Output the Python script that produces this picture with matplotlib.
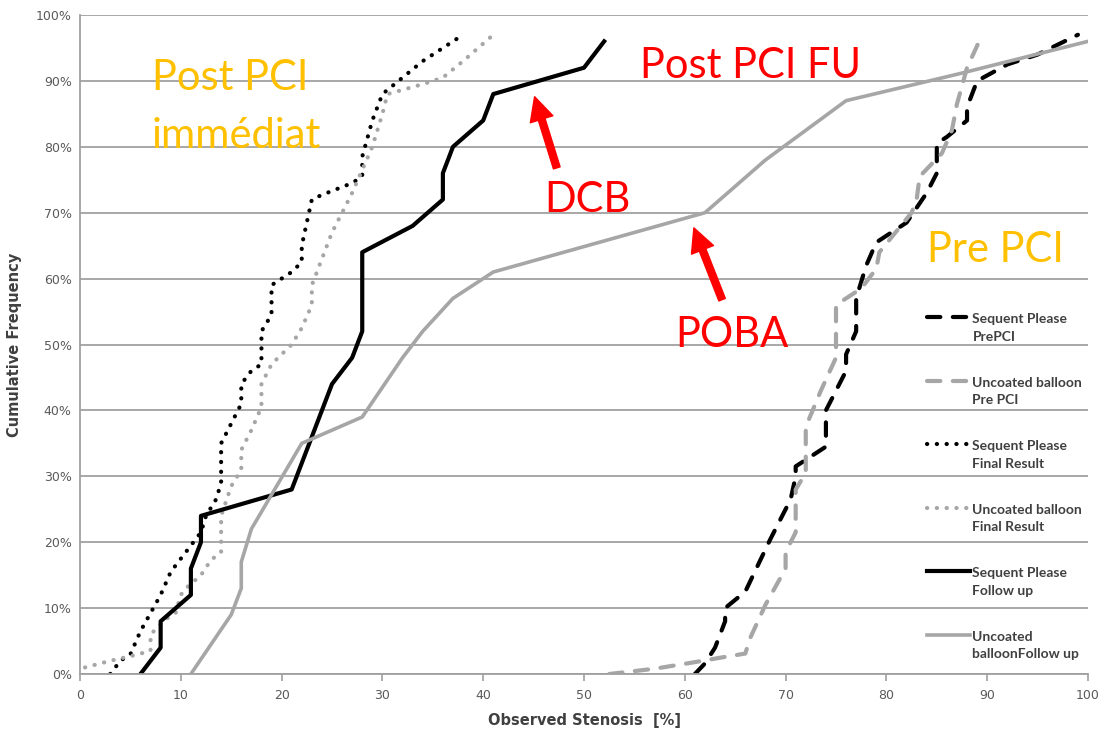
import numpy as np
import matplotlib
matplotlib.use("Agg")
import matplotlib.pyplot as plt
from matplotlib.ticker import PercentFormatter, MultipleLocator
from matplotlib.legend_handler import HandlerLine2D

# cumulative frequency curves, x = observed stenosis [%], y = cumulative frequency [%]
sp_pre_x = [61, 62, 63, 64, 64, 66, 68.5, 70.5, 71, 71, 74, 74, 75, 76, 76, 77, 77, 78, 79, 82, 84, 85, 85, 86, 88, 88, 89, 92, 95, 99]
sp_pre_y = [0, 1.6, 4, 8, 10, 12.5, 20.5, 26.5, 30, 31.5, 34.5, 40, 43, 46, 48.5, 52, 57, 62, 65.5, 68.5, 73, 76, 80.5, 81.5, 84, 86, 90, 92.5, 94, 97]

ub_pre_x = [52.5, 57, 61, 64, 66, 66.5, 68, 70, 70, 71, 71, 72, 72, 73.5, 75, 75, 77.5, 79, 79.3, 82.5, 83, 83.3, 85.5, 86.5, 87, 88, 89.5]
ub_pre_y = [0, 0.8, 1.8, 2.6, 3.1, 5.5, 10.5, 16, 18.5, 21.5, 28, 30.5, 37.5, 43, 48, 56, 58.5, 61.5, 64, 70, 72, 75.5, 79, 82.5, 86.5, 92, 97]

sp_final_x = [3, 4, 5, 6, 8, 9, 10, 11, 12, 12.5, 13.5, 14, 14, 15, 16, 16, 17, 18, 18, 19, 19, 21, 22, 22, 23, 24, 27, 28, 28, 29, 30, 32, 34, 36, 38]
sp_final_y = [0, 2, 3, 6.5, 12, 15.5, 17.5, 19.5, 21.5, 24, 26.5, 29, 35, 38, 41, 44, 46, 47, 52, 54.5, 59, 61, 62.5, 65, 72, 72.7, 74.5, 75.5, 78.5, 84, 88, 90.5, 93, 95, 97]

ub_final_x = [0.5, 3, 5, 7, 7, 8.5, 9.5, 10, 10.5, 12, 13, 14, 14, 15, 16, 16, 17, 18, 18, 19, 21, 22, 23, 23, 25, 27, 29, 30, 30.5, 34, 36, 38, 41]
ub_final_y = [1, 2, 2.7, 3.5, 6, 8.3, 9.3, 12, 13, 15, 17.3, 18.5, 24, 28.5, 31, 34, 37, 40.5, 44, 47, 50, 52.5, 56, 59, 67, 73, 80, 85, 88, 89.5, 90.5, 93, 97]

sp_fu_x = [6, 8, 8, 11, 11, 12, 12, 21, 24, 25, 27, 28, 28, 33, 36, 36, 37, 40, 41, 50, 52]
sp_fu_y = [0, 4, 8, 12, 16, 20, 24, 28, 40, 44, 48, 52, 64, 68, 72, 76, 80, 84, 88, 92, 96]

ub_fu_x = [11, 15, 16, 16, 17, 22, 28, 32, 34, 37, 41, 62, 68, 76, 87, 100]
ub_fu_y = [0, 9, 13, 17, 22, 35, 39, 48, 52, 57, 61, 70, 78, 87, 91, 96]

labels = ["Sequent Please\nPrePCI", "Uncoated balloon\nPre PCI",
          "Sequent Please\nFinal Result", "Uncoated balloon\nFinal Result",
          "Sequent Please\nFollow up", "Uncoated\nballoonFollow up"]

BLACK = "#000000"
GREY = "#a6a6a6"
dash = (0, (3.2, 3.0))
dot = (0, (0.05, 2.3))

LEG_FS = 10
LEG_LS = 1.55


class FirstLineHandler(HandlerLine2D):
    # put the legend sample level with the first line of a two-line label
    def create_artists(self, legend, orig_handle, xdescent, ydescent, width, height, fontsize, trans):
        shift = 0.5 * LEG_LS * fontsize
        return super().create_artists(legend, orig_handle, xdescent, ydescent - 2 * shift,
                                      width, height, fontsize, trans)


fig = plt.figure(figsize=(11.05, 7.3), dpi=100)
ax = fig.add_axes([80/1105, 56/730, 1008/1105, 659/730])

ax.plot(sp_pre_x, sp_pre_y, color=BLACK, lw=3, linestyle=dash, dash_capstyle="round", label=labels[0])
ax.plot(ub_pre_x, ub_pre_y, color=GREY, lw=3, linestyle=dash, dash_capstyle="round", label=labels[1])
ax.plot(sp_final_x, sp_final_y, color=BLACK, lw=3, linestyle=dot, dash_capstyle="round", label=labels[2])
ax.plot(ub_final_x, ub_final_y, color=GREY, lw=3, linestyle=dot, dash_capstyle="round", label=labels[3])
ax.plot(sp_fu_x, sp_fu_y, color=BLACK, lw=3, label=labels[4])
ax.plot(ub_fu_x, ub_fu_y, color=GREY, lw=2.6, label=labels[5])

ax.set_xlim(0, 100)
ax.set_ylim(0, 100)
ax.xaxis.set_major_locator(MultipleLocator(10))
ax.yaxis.set_major_locator(MultipleLocator(10))
ax.yaxis.set_major_formatter(PercentFormatter(decimals=0))
ax.grid(axis="y", color="#a0a0a0", lw=1.3)
ax.set_axisbelow(True)
for s in ["top", "right"]:
    ax.spines[s].set_visible(False)
for s in ["left", "bottom"]:
    ax.spines[s].set_color("#a0a0a0")
    ax.spines[s].set_linewidth(1.3)
ax.tick_params(axis="x", colors="#595959", labelsize=9, length=5, width=1.2, color="#a0a0a0", pad=6)
ax.tick_params(axis="y", colors="#595959", labelsize=9, length=0, pad=6)
ax.set_xlabel("Observed Stenosis  [%]", fontsize=10.5, fontweight="bold", color="#404040", labelpad=8)
ax.set_ylabel("Cumulative Frequency", fontsize=10.5, fontweight="bold", color="#404040", labelpad=10)

leg = ax.legend(loc="upper left", bbox_to_anchor=(0.833, 0.558), frameon=False,
                prop=dict(family="Lato", weight="bold", size=LEG_FS),
                handlelength=3.1, handletextpad=0.2, labelspacing=2.45, borderpad=0,
                handler_map={matplotlib.lines.Line2D: FirstLineHandler()})
for t in leg.get_texts():
    t.set_color("#404040")
    t.set_linespacing(LEG_LS)

ann = dict(family="Lato", fontsize=30)
ax.text(7.1, 79.8, "Post PCI\nimmédiat", color="#ffc000", va="baseline", ha="left", linespacing=1.65, **ann)
ax.text(55.6, 90.4, "Post PCI FU", color="#ff0000", va="baseline", ha="left", **ann)
ax.text(46.1, 70.1, "DCB", color="#ff0000", va="baseline", ha="left", **ann)
ax.text(84.0, 62.5, "Pre PCI", color="#ffc000", va="baseline", ha="left", **ann)
ax.text(59.1, 49.6, "POBA", color="#ff0000", va="baseline", ha="left", **ann)

arrow = dict(color="#ff0000", width=5, headwidth=17, headlength=17, shrink=0)
ax.annotate("", xy=(45.1, 87.6), xytext=(47.3, 76.8), arrowprops=arrow)
ax.annotate("", xy=(60.9, 67.7), xytext=(63.7, 56.8), arrowprops=arrow)

fig.savefig("out.png", dpi=100)
